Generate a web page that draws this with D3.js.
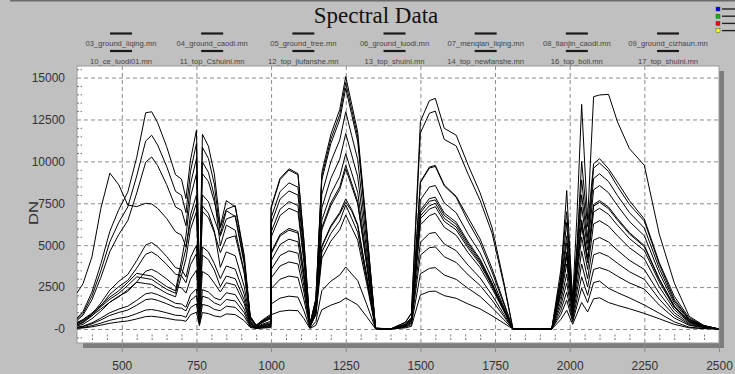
<!DOCTYPE html>
<html>
<head>
<meta charset="utf-8">
<script src="https://cdn.jsdelivr.net/npm/d3@7"></script>
<style>
body { margin: 0; background: #c0c0c0; }
svg { display: block; font-family: Arial, "Liberation Sans", sans-serif; }
</style>
</head>
<body>
<div id="chart-area"></div>
<script>

var width = 735,
    height = 374;

// Wavelengths (nm) shared by every spectrum
var wavelengths = [350, 370, 400, 430, 460, 490, 520, 550, 580, 600,
    620, 650, 680, 700, 715, 730, 750, 760, 770, 790,
    810, 830, 850, 880, 910, 930, 950, 970, 999, 1000,
    1030, 1060, 1090, 1110, 1130, 1150, 1170, 1200, 1230, 1250,
    1270, 1290, 1320, 1350, 1400, 1450, 1470, 1500, 1530, 1550,
    1580, 1620, 1660, 1700, 1740, 1780, 1810, 1870, 1940, 1970,
    1990, 2010, 2025, 2040, 2060, 2080, 2100, 2130, 2160, 2200,
    2250, 2300, 2350, 2400, 2450, 2500];

// DN values, one array per file
var ground_liqing_03 = [60, 90, 200, 350, 520, 640, 730, 920, 1130, 1160,
    1100, 970, 820, 800, 700, 1280, 1500, 300, 1470, 1380,
    1170, 1090, 1360, 1290, 750, 140, 40, 80, 140, 1490,
    1840, 1960, 1900, 1080, 60, 440, 2290, 2850, 3220, 3700,
    3290, 2890, 1480, 10, 0, 110, 260, 3290, 3620, 3660,
    3220, 2960, 2420, 1940, 1280, 550, 0, 0, 0, 860,
    1720, 430, 1430, 2430, 1570, 2770, 2860, 2430, 2170, 1860,
    1430, 940, 430, 110, 30, 0];

var ground_caodi_04 = [360, 530, 890, 1330, 1780, 2130, 2600, 3110, 3020, 2960,
    2720, 2370, 2130, 3700, 4800, 6800, 8000, 2000, 8000, 7600,
    6560, 5540, 6560, 6760, 4060, 680, 200, 470, 810, 5470,
    6770, 7200, 6980, 3960, 220, 1150, 5930, 7360, 8320, 9560,
    8510, 7460, 3820, 30, 0, 220, 510, 6570, 7150, 7300,
    6420, 5910, 4820, 3870, 2560, 1100, 0, 0, 0, 1370,
    2740, 680, 2280, 3880, 2510, 4420, 4560, 4330, 3920, 3420,
    2960, 1780, 820, 270, 90, 0];

var ground_tree_05 = [380, 570, 950, 1420, 1900, 2280, 2780, 3320, 3220, 3160,
    2910, 2530, 2280, 4100, 5560, 7870, 9260, 2320, 9260, 8800,
    7590, 6040, 7140, 7360, 4420, 740, 220, 520, 880, 6260,
    7750, 8240, 7990, 4530, 250, 1260, 6490, 8050, 9100, 10460,
    9310, 8160, 4180, 30, 0, 220, 530, 6750, 7350, 7500,
    6600, 6080, 4950, 3980, 2630, 1130, 0, 0, 0, 1640,
    3280, 820, 2730, 4640, 3000, 5300, 5460, 5190, 4700, 4100,
    3550, 2130, 980, 330, 110, 0];

var ground_luodi_06 = [110, 170, 370, 650, 970, 1190, 1360, 1710, 2100, 2160,
    2050, 1810, 1530, 1490, 1300, 2040, 2400, 480, 2350, 2210,
    1870, 1730, 2160, 2050, 1190, 220, 60, 130, 220, 3040,
    3760, 4000, 3880, 2200, 120, 950, 4900, 6080, 6870, 7560,
    7030, 6160, 3160, 20, 0, 170, 400, 5180, 5700, 5760,
    5070, 4670, 3800, 3050, 2020, 860, 0, 0, 0, 2160,
    4320, 1080, 3600, 6120, 3960, 6980, 7200, 6840, 6190, 5400,
    4680, 2810, 1300, 430, 140, 0];

var menqian_liqing_07 = [40, 60, 130, 230, 340, 420, 480, 600, 740, 760,
    720, 640, 540, 520, 460, 850, 1000, 200, 980, 920,
    780, 720, 900, 860, 500, 90, 30, 50, 90, 850,
    1050, 1120, 1090, 620, 30, 220, 1150, 1420, 1610, 1850,
    1650, 1440, 740, 10, 0, 70, 160, 2030, 2240, 2260,
    1990, 1830, 1490, 1200, 790, 340, 0, 0, 0, 560,
    1120, 280, 930, 1580, 1020, 1800, 1860, 1580, 1410, 1210,
    930, 610, 280, 70, 20, 0];

var tianjin_caodi_08 = [320, 480, 800, 1200, 1600, 1920, 2340, 2790, 2710, 2660,
    2450, 2130, 1920, 3200, 4200, 5950, 7000, 1750, 7000, 6650,
    5740, 4560, 5390, 5560, 3340, 560, 170, 390, 670, 4480,
    5550, 5900, 5720, 3250, 180, 820, 4220, 5240, 5920, 6800,
    6050, 5300, 2720, 20, 0, 210, 480, 6210, 6760, 6900,
    6070, 5590, 4550, 3660, 2420, 1040, 0, 0, 0, 1100,
    2200, 550, 1830, 3110, 2010, 3550, 3660, 3480, 3150, 2750,
    2380, 1430, 660, 220, 70, 0];

var ground_cizhaun_09 = [90, 140, 310, 540, 810, 990, 1130, 1420, 1750, 1800,
    1710, 1510, 1280, 1240, 1080, 1700, 2000, 400, 1960, 1840,
    1560, 1410, 1760, 1670, 970, 180, 50, 110, 180, 2400,
    2970, 3160, 3070, 1740, 100, 890, 4590, 5700, 6440, 7400,
    6590, 5770, 2960, 20, 0, 150, 340, 4410, 4850, 4900,
    4310, 3970, 3230, 2600, 1720, 740, 0, 0, 0, 1940,
    3880, 970, 3230, 5490, 3550, 6270, 6460, 6140, 5560, 4850,
    4200, 2520, 1160, 390, 130, 0];

var ce_luodi01_10 = [180, 280, 610, 1070, 1600, 1960, 2240, 2810, 3450, 3560,
    3380, 2990, 2530, 2460, 2140, 2980, 3500, 700, 3430, 3220,
    2730, 2210, 2760, 2620, 1520, 280, 80, 170, 280, 3540,
    4380, 4660, 4520, 2560, 140, 960, 4960, 6160, 6960, 7760,
    7120, 6240, 3200, 20, 0, 230, 540, 6930, 7620, 7700,
    6780, 6240, 5080, 4080, 2700, 1160, 0, 0, 0, 2270,
    4540, 1130, 3780, 6430, 4160, 7330, 7560, 7180, 6500, 5670,
    4910, 2950, 1360, 450, 150, 0];

var top_Cshuini_11 = [510, 820, 1740, 3080, 4620, 5640, 6460, 8110, 9950, 10260,
    9750, 8620, 7280, 7080, 6160, 8640, 10160, 2030, 9960, 9350,
    7920, 4960, 6200, 5890, 3410, 620, 190, 370, 620, 6630,
    8200, 8720, 8460, 4800, 260, 1720, 8900, 11060, 12490, 14360,
    12780, 11200, 5740, 40, 0, 290, 680, 8780, 9660, 9760,
    8590, 7910, 6640, 5370, 3610, 1560, 0, 0, 0, 2970,
    6360, 1490, 4950, 8900, 5450, 9600, 9900, 9400, 8510, 7430,
    6440, 3860, 1780, 590, 200, 0];

var top_jiufanshe_12 = [260, 410, 880, 1550, 2320, 2840, 3250, 4080, 5010, 5160,
    4900, 4330, 3660, 3560, 3100, 4250, 5000, 1000, 4900, 4600,
    3900, 3010, 3760, 3570, 2070, 380, 110, 230, 380, 4560,
    5640, 6000, 5820, 3300, 180, 1400, 7230, 8980, 10140, 11660,
    10380, 9090, 4660, 30, 0, 260, 600, 7700, 8470, 8560,
    7530, 6930, 5650, 4540, 3000, 1280, 0, 0, 0, 2570,
    5140, 1280, 4280, 7280, 4710, 8300, 8560, 8130, 7360, 6420,
    5560, 3340, 1540, 510, 170, 0];

var top_shuini_13 = [580, 920, 1970, 3470, 5200, 6360, 7280, 9130, 11210, 11560,
    10980, 9710, 8210, 7980, 6940, 9400, 11060, 2210, 10840, 10180,
    8630, 5650, 7060, 6710, 3880, 710, 210, 420, 710, 7200,
    8910, 9480, 9200, 5210, 280, 1760, 9110, 11320, 12790, 14700,
    13080, 11470, 5880, 50, 0, 390, 910, 11700, 12870, 13000,
    11310, 10920, 9230, 7670, 5720, 2600, 0, 0, 0, 3050,
    8260, 1520, 5080, 10000, 6100, 9860, 10160, 9560, 8760, 7660,
    6560, 3960, 1960, 660, 200, 0];

var top_newfanshe_14 = [230, 370, 780, 1380, 2070, 2530, 2900, 3630, 4460, 4600,
    4370, 3860, 3270, 3170, 2760, 3830, 4500, 900, 4410, 4140,
    3510, 2530, 3160, 3000, 1740, 320, 90, 190, 320, 4070,
    5040, 5360, 5200, 2950, 160, 1170, 6050, 7520, 8490, 9760,
    8690, 7610, 3900, 30, 0, 240, 550, 7070, 7780, 7860,
    6920, 6370, 5190, 4170, 2750, 1180, 0, 0, 0, 2300,
    4600, 1150, 3830, 6510, 4210, 7430, 7660, 7280, 6590, 5750,
    4980, 2990, 1380, 460, 150, 0];

var top_boli_16 = [2150, 2700, 4300, 7200, 9300, 8600, 7400, 7300, 7500, 7460,
    7200, 6600, 5800, 5600, 4900, 6400, 7500, 1500, 7350, 6900,
    5850, 3680, 4600, 4370, 2530, 460, 140, 280, 460, 5780,
    7140, 7600, 7370, 4180, 230, 1560, 8040, 9980, 11280, 12960,
    11530, 10110, 5180, 40, 0, 290, 680, 8730, 9600, 9700,
    8540, 7860, 6400, 5140, 3400, 1460, 0, 0, 0, 2780,
    5560, 1390, 4630, 8000, 5100, 8980, 9260, 8800, 7960, 6950,
    6020, 3610, 1670, 560, 190, 0];

var top_shuini_17 = [650, 1040, 2200, 3890, 5830, 7130, 8160, 10240, 12900, 12960,
    12310, 10890, 9200, 8940, 7780, 10080, 11860, 2370, 11620, 10910,
    9250, 6130, 7660, 7280, 4210, 770, 230, 460, 770, 7270,
    8990, 9560, 9270, 5260, 290, 1810, 9340, 11600, 13100, 15060,
    13400, 11750, 6020, 60, 0, 410, 960, 12380, 13620, 13760,
    11970, 11560, 9770, 8120, 6050, 2750, 0, 0, 0, 3500,
    7000, 1800, 7000, 13400, 6500, 13860, 13960, 14000, 12360, 10760,
    9760, 5660, 2760, 760, 200, 0];

var legendRow1 = ["03_ground_liqing.mn", "04_ground_caodi.mn", "05_ground_tree.mn",
    "06_ground_luodi.mn", "07_menqian_liqing.mn", "08_tianjin_caodi.mn", "09_ground_cizhaun.mn"];
var legendRow2 = ["10_ce_luodi01.mn", "11_top_Cshuini.mn", "12_top_jiufanshe.mn",
    "13_top_shuini.mn", "14_top_newfanshe.mn", "16_top_boli.mn", "17_top_shuini.mn"];

var allSeries = [ground_liqing_03, ground_caodi_04, ground_tree_05, ground_luodi_06,
    menqian_liqing_07, tianjin_caodi_08, ground_cizhaun_09, ce_luodi01_10,
    top_Cshuini_11, top_jiufanshe_12, top_shuini_13, top_newfanshe_14,
    top_boli_16, top_shuini_17];

var xTicks = [500, 750, 1000, 1250, 1500, 1750, 2000, 2250, 2500];
var yTicks = [0, 2500, 5000, 7500, 10000, 12500, 15000];
var yTickLabels = ["-0", "2500", "5000", "7500", "10000", "12500", "15000"];
var iconColors = ["#0000ff", "#00c000", "#ff0000", "#ffff00"];


var plotLeft = 77, plotTop = 66,
    plotW = 719 - 77, plotH = 343 - 66;

var svg = d3.select("#chart-area").append("svg")
    .attr("width", width)
    .attr("height", height);

svg.append("rect")
    .attr("width", width).attr("height", height)
    .attr("fill", "#c0c0c0");

// dark frame line along the top
svg.append("line")
    .attr("x1", 10).attr("x2", width).attr("y1", 0.5).attr("y2", 0.5)
    .attr("stroke", "#6a6a6a").attr("stroke-width", 2);

// Title
svg.append("text")
    .attr("x", 376).attr("y", 23)
    .attr("text-anchor", "middle")
    .style("font-family", "'Liberation Serif', 'Times New Roman', serif")
    .style("font-size", "23px")
    .attr("fill", "#111")
    .text("Spectral Data");

// little colour icon in the corner
var icon = svg.append("g").attr("transform", "translate(716,7)");
icon.selectAll("rect").data(iconColors).enter().append("rect")
    .attr("x", 0).attr("y", function(d, i) { return i * 7.2; })
    .attr("width", 4).attr("height", 4)
    .attr("fill", function(d) { return d; })
    .attr("stroke", "#333").attr("stroke-width", 0.4);
icon.selectAll("line").data(iconColors).enter().append("line")
    .attr("x1", 6).attr("x2", 20)
    .attr("y1", function(d, i) { return i * 7.2 + 2; })
    .attr("y2", function(d, i) { return i * 7.2 + 2; })
    .attr("stroke", "#222").attr("stroke-width", 1.4);

// Legend: two rows of entries
var legendX = d3.scalePoint().domain(d3.range(7)).range([121, 668]);
[[legendRow1, 33.5, 45.5], [legendRow2, 51, 63.5]].forEach(function(row) {
    var entry = svg.append("g").selectAll("g")
        .data(row[0])
        .enter().append("g")
        .attr("transform", function(d, i) { return "translate(" + legendX(i) + ",0)"; });
    entry.append("line")
        .attr("x1", -11).attr("x2", 11)
        .attr("y1", row[1]).attr("y2", row[1])
        .attr("stroke", "#1a1a1a").attr("stroke-width", 2.2);
    entry.append("text")
        .attr("y", row[2])
        .attr("text-anchor", "middle")
        .style("font-size", "7.6px")
        .attr("fill", "#444")
        .text(function(d) { return d; });
});

// Scales
var x = d3.scaleLinear().domain([350, 2500]).range([0, plotW]);
var y = d3.scaleLinear().domain([-835, 15690]).range([plotH, 0]);

var g = svg.append("g").attr("transform", "translate(" + plotLeft + "," + plotTop + ")");

// shadow under the plot box
g.append("rect").attr("x", 6).attr("y", plotH).attr("width", plotW - 1).attr("height", 5).attr("fill", "#7d7d7d");
g.append("rect").attr("x", plotW).attr("y", 5).attr("width", 5).attr("height", plotH).attr("fill", "#7d7d7d");

g.append("rect")
    .attr("width", plotW).attr("height", plotH)
    .attr("fill", "#fff")
    .attr("stroke", "#9a9a9a");

// Dashed grid
var xGrid = g.append("g")
    .attr("transform", "translate(0," + plotH + ")")
    .call(d3.axisBottom(x).tickValues(xTicks.slice(0, -1)).tickSize(-plotH).tickFormat(""));
var yGrid = g.append("g")
    .call(d3.axisLeft(y).tickValues(yTicks).tickSize(-plotW).tickFormat(""));
[xGrid, yGrid].forEach(function(a) {
    a.select(".domain").remove();
    a.selectAll("line").attr("stroke", "#8c8c8c").attr("stroke-dasharray", "4,3");
});

// minor ticks inside the box
var yMinor = d3.range(-500, 15600, 500).filter(function(v) { return v % 2500 !== 0; });
var xMinor = d3.range(400, 2500, 50).filter(function(v) { return v % 250 !== 0; });
var yMin = g.append("g")
    .call(d3.axisLeft(y).tickValues(yMinor).tickSize(-5).tickFormat(""));
var xMin = g.append("g")
    .attr("transform", "translate(0," + (plotH - 3) + ")")
    .call(d3.axisBottom(x).tickValues(xMinor).tickSize(-6).tickFormat(""));
[yMin, xMin].forEach(function(a) {
    a.select(".domain").remove();
    a.selectAll("line").attr("stroke", "#777").attr("stroke-dasharray", "2,1.5");
});

// Axes with labels
var xAxis = g.append("g")
    .attr("transform", "translate(0," + plotH + ")")
    .call(d3.axisBottom(x).tickValues(xTicks).tickSize(9).tickPadding(9).tickFormat(d3.format("d")));
xAxis.select(".domain").remove();
xAxis.selectAll("line").attr("stroke", "#8a8a8a");
xAxis.selectAll("text").attr("fill", "#333").style("font-size", "12px");

var yAxis = g.append("g")
    .call(d3.axisLeft(y).tickValues(yTicks).tickSize(0).tickPadding(12)
        .tickFormat(function(d, i) { return yTickLabels[i]; }));
yAxis.select(".domain").remove();
yAxis.selectAll("text").attr("fill", "#333").style("font-size", "12px");

svg.append("text")
    .attr("transform", "translate(38,213) rotate(-90)")
    .attr("text-anchor", "middle")
    .style("font-size", "13px")
    .attr("fill", "#333")
    .attr("textLength", 24).attr("lengthAdjust", "spacingAndGlyphs")
    .text("DN");

// Spectra
g.append("clipPath").attr("id", "clip")
    .append("rect").attr("width", plotW).attr("height", plotH);

var line = d3.line()
    .x(function(d, i) { return x(wavelengths[i]); })
    .y(function(d) { return y(d); });

g.append("g").attr("clip-path", "url(#clip)")
    .selectAll(".spectrum")
    .data(allSeries)
    .enter().append("path")
    .attr("class", "spectrum")
    .attr("d", line)
    .attr("fill", "none")
    .attr("stroke", "#000")
    .attr("stroke-width", 1);

</script>
</body>
</html>
